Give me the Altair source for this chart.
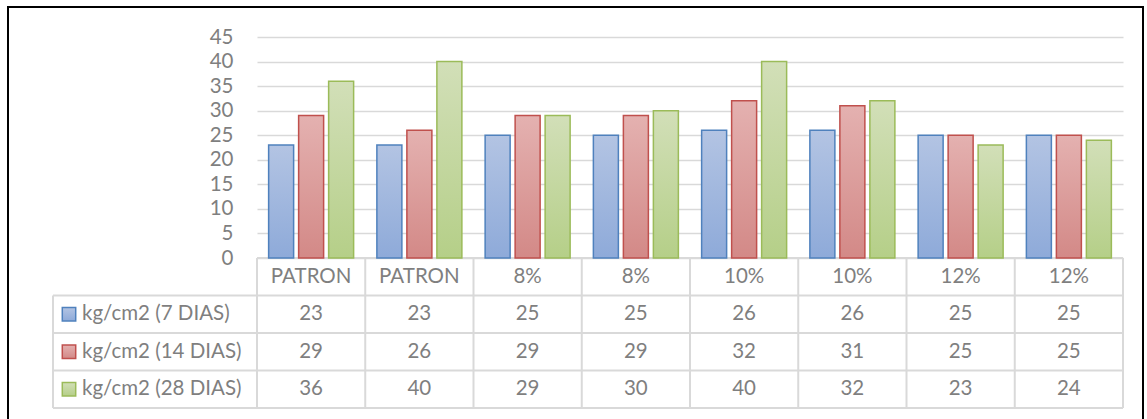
import altair as alt
import pandas as pd

# ---------------- data ----------------
categories = ["PATRON", "PATRON", "8%", "8%", "10%", "10%", "12%", "12%"]
series_names = ["kg/cm2 (7 DIAS)", "kg/cm2 (14 DIAS)", "kg/cm2 (28 DIAS)"]
s7 = [23, 23, 25, 25, 26, 26, 25, 25]
s14 = [29, 26, 29, 29, 32, 31, 25, 25]
s28 = [36, 40, 29, 30, 40, 32, 23, 24]
y_ticks = [0, 5, 10, 15, 20, 25, 30, 35, 40, 45]

# ---------------- style / layout ----------------
W, H = 866, 221
ROW_H = 37.5
LEG_W = 204
FONT = "Lato"
FS = 20.5
TXT = "#7f7f7f"
GRID = "#d9d9d9"

strokes = ["#4f81bd", "#c0504d", "#9bbb59"]
grad_stops = [("#b3c4e3", "#8eaad9"), ("#e4b1b0", "#d38987"), ("#d2dfb8", "#b5cf88")]


def grad(top, bottom):
    return alt.Gradient(
        gradient="linear",
        stops=[alt.GradientStop(color=top, offset=0), alt.GradientStop(color=bottom, offset=1)],
        x1=0, x2=0, y1=0, y2=1,
    )


keys = [f"c{i}" for i in range(len(categories))]
rows = []
for name, vals in zip(series_names, [s7, s14, s28]):
    for k, lab, v in zip(keys, categories, vals):
        rows.append(dict(key=k, cat=lab, row=name, series=name, value=v))
df = pd.DataFrame(rows)
hdr = pd.DataFrame({"key": keys, "cat": categories, "row": ["hdr"] * len(keys)})
leg = pd.DataFrame({"row": series_names})

x_scale = alt.Scale(domain=keys, paddingInner=0, paddingOuter=0)
xo_scale = alt.Scale(domain=series_names, paddingInner=1 / 6, paddingOuter=0.3875)
y_scale = alt.Scale(domain=[0, 45], nice=False, zero=True)
row_scale = alt.Scale(domain=["hdr"] + series_names, range=[H, H + 4 * ROW_H],
                      paddingInner=0, paddingOuter=0)

# table grid (decoration)
col_w = W / len(keys)
lines = [dict(x=0, x2=W, y=H, y2=H)]
for k in range(1, 5):
    lines.append(dict(x=-LEG_W, x2=W, y=H + k * ROW_H, y2=H + k * ROW_H))
lines.append(dict(x=-LEG_W, x2=-LEG_W, y=H + ROW_H, y2=H + 4 * ROW_H))
for k in range(len(keys) + 1):
    lines.append(dict(x=k * col_w, x2=k * col_w, y=H, y2=H + 4 * ROW_H))
lines_df = pd.DataFrame(lines)

grid_layer = alt.Chart(lines_df).mark_rule(color=GRID, strokeWidth=2).encode(
    x=alt.X("x:Q", scale=None, axis=None),
    x2="x2:Q",
    y=alt.Y("y:Q", scale=None, axis=None),
    y2="y2:Q",
)

bar_layers = []
for i, name in enumerate(series_names):
    axis = None
    if i == 0:
        axis = alt.Axis(values=y_ticks, grid=True, gridColor=GRID, gridWidth=1.5,
                        domain=False, ticks=False, tickSize=0, labelPadding=24,
                        labelFont=FONT, labelFontSize=FS, labelColor=TXT, title=None)
    bar_layers.append(
        alt.Chart(df).transform_filter(alt.datum.series == name)
        .mark_bar(fill=grad(*grad_stops[i]), stroke=strokes[i], strokeWidth=1.5, opacity=1)
        .encode(
            x=alt.X("key:N", scale=x_scale, axis=None),
            xOffset=alt.XOffset("series:N", scale=xo_scale),
            y=alt.Y("value:Q", scale=y_scale, axis=axis),
        )
    )

text_style = dict(font=FONT, fontSize=FS, color=TXT, baseline="middle")

hdr_text = alt.Chart(hdr).mark_text(**text_style).encode(
    x=alt.X("key:N", scale=x_scale, axis=None),
    y=alt.Y("row:N", scale=row_scale, axis=None),
    text="cat:N",
)
val_text = alt.Chart(df).mark_text(**text_style).encode(
    x=alt.X("key:N", scale=x_scale, axis=None),
    y=alt.Y("row:N", scale=row_scale, axis=None),
    text="value:Q",
)
leg_text = alt.Chart(leg).mark_text(align="left", **text_style).encode(
    x=alt.value(-175),
    y=alt.Y("row:N", scale=row_scale, axis=None),
    text="row:N",
)
leg_sq = []
for i, name in enumerate(series_names):
    leg_sq.append(
        alt.Chart(leg).transform_filter(alt.datum.row == name)
        .mark_square(size=180, fill=grad(*grad_stops[i]), stroke=strokes[i],
                     strokeWidth=1.5, opacity=1, fillOpacity=1)
        .encode(
            x=alt.value(-188),
            y=alt.Y("row:N", scale=row_scale, axis=None),
        )
    )

border = alt.Chart(pd.DataFrame({"a": [0]})).mark_rect(
    fill="transparent", stroke="black", strokeWidth=2
).encode(
    x=alt.value(-249), x2=alt.value(886), y=alt.value(-30), y2=alt.value(386)
)

chart = alt.layer(grid_layer, *bar_layers, hdr_text, val_text, leg_text, *leg_sq, border).resolve_scale(
    x="independent", y="independent"
).properties(
    width=W, height=H, padding={"left": 7, "top": 6, "right": 0, "bottom": 0},
    background="white",
).configure_view(stroke=None)

chart.save("out.html", embed_options={"renderer": "svg", "actions": False})
